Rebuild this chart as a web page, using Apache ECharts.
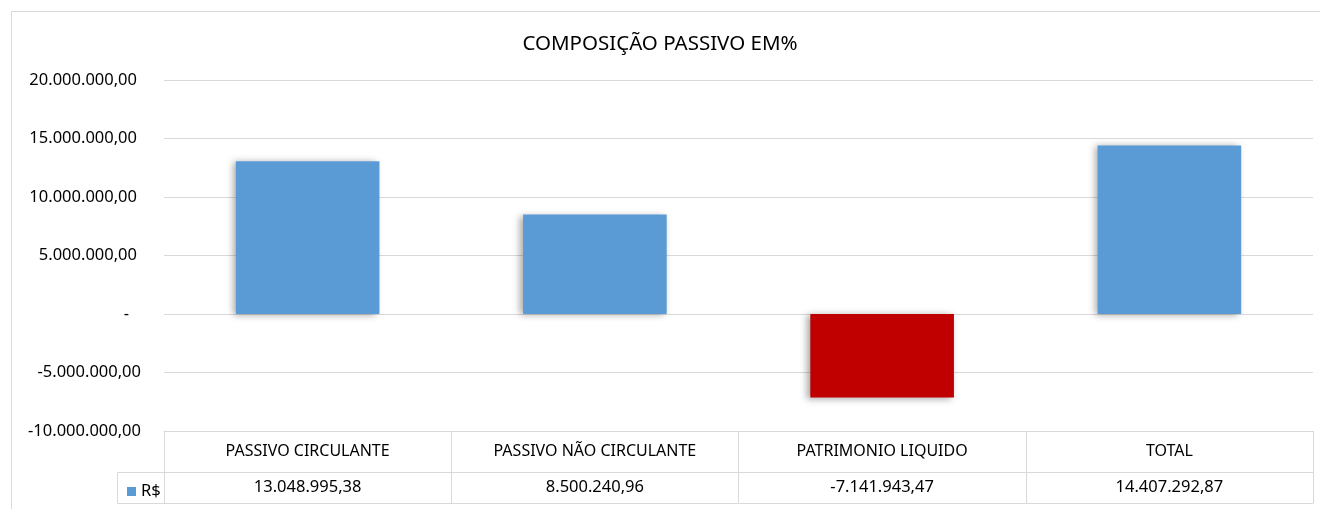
<!DOCTYPE html>
<html>
<head>
<meta charset="utf-8">
<script src="https://cdn.jsdelivr.net/npm/echarts@6/dist/echarts.min.js"></script>
<style>
  html, body { margin: 0; padding: 0; background: #fff; }
  #chart { width: 1320px; height: 509px; }
</style>
</head>
<body>
<div id="chart"></div>
<script>
// dados do gráfico
const categorias = ['PASSIVO CIRCULANTE', 'PASSIVO NÃO CIRCULANTE', 'PATRIMONIO LIQUIDO', 'TOTAL']
const valores = [13048995.38, 8500240.96, -7141943.47, 14407292.87]
const eixoY = { min: -10000000, max: 20000000, intervalo: 5000000 }

// formata no padrão brasileiro 1.234.567,89
function brl(v) {
    const neg = v < 0
    const partes = Math.abs(v).toFixed(2).split('.')
    const inteiro = partes[0].replace(/\B(?=(\d{3})+(?!\d))/g, '.')
    return (neg ? '-' : '') + inteiro + ',' + partes[1]
}

;(function () {
    const myChart = echarts.init(document.getElementById('chart'))
    const fonte = '"Noto Sans", "Open Sans", sans-serif'
    const cinza = '#d9d9d9'
    const option = {
        animation: false,
        textStyle: { fontFamily: fonte, color: '#000' },
        title: {
            text: 'COMPOSIÇÃO PASSIVO EM%',
            left: 'center',
            top: 29,
            textStyle: { fontFamily: fonte, fontSize: 20.5, fontWeight: 'normal', color: '#000' }
        },
        legend: {
            left: 122,
            top: 478,
            icon: 'rect',
            itemWidth: 9,
            itemHeight: 9,
            itemGap: 0,
            textStyle: { fontFamily: fonte, fontSize: 16.5, color: '#000' }
        },
        grid: { left: 164, right: 7, top: 80, bottom: 78 },
        xAxis: [
            {
                type: 'category',
                data: categorias,
                position: 'bottom',
                axisLine: { show: true, onZero: false, lineStyle: { color: cinza } },
                axisTick: { show: true, interval: 0, length: 72, lineStyle: { color: cinza } },
                axisLabel: {
                    interval: 0,
                    margin: 0,
                    verticalAlign: 'top',
                    formatter: function (nome, i) {
                        return '{n|' + nome + '}\n{v|' + brl(valores[i]) + '}'
                    },
                    rich: {
                        n: { fontFamily: fonte, fontSize: 16, lineHeight: 41, color: '#000' },
                        v: { fontFamily: fonte, fontSize: 16.5, lineHeight: 31, color: '#000' }
                    }
                }
            },
            {
                // linha entre as duas linhas da tabela
                type: 'category',
                data: categorias,
                position: 'bottom',
                offset: 41,
                axisLine: { show: true, onZero: false, lineStyle: { color: cinza } },
                axisTick: { show: false },
                axisLabel: { show: false }
            },
            {
                // linha de baixo da tabela
                type: 'category',
                data: categorias,
                position: 'bottom',
                offset: 72,
                axisLine: { show: true, onZero: false, lineStyle: { color: cinza } },
                axisTick: { show: false },
                axisLabel: { show: false }
            }
        ],
        yAxis: {
            type: 'value',
            min: eixoY.min,
            max: eixoY.max,
            interval: eixoY.intervalo,
            axisLine: { show: false },
            axisTick: { show: false },
            splitLine: { lineStyle: { color: cinza, width: 1 } },
            axisLabel: {
                margin: 23,
                fontFamily: fonte,
                fontSize: 16.5,
                color: '#000',
                formatter: function (v) {
                    if (v === 0) return '{z|-}'
                    if (v > 0) return '{p|' + brl(v) + '}'
                    return brl(v)
                },
                rich: {
                    z: { fontFamily: fonte, fontSize: 16.5, padding: [0, 12, 0, 0] },
                    p: { fontFamily: fonte, fontSize: 16.5, padding: [0, 4, 0, 0] }
                }
            }
        },
        series: [
            {
                name: 'R$',
                type: 'bar',
                barWidth: '50%',
                itemStyle: {
                    color: '#5b9bd5',
                    shadowBlur: 7,
                    shadowOffsetX: -3,
                    shadowOffsetY: 1,
                    shadowColor: 'rgba(0,0,0,0.35)'
                },
                data: valores.map(function (v) {
                    return v < 0 ? { value: v, itemStyle: { color: '#c00000' } } : v
                })
            }
        ],
        graphic: [
            // borda externa do gráfico
            {
                type: 'rect',
                shape: { x: 11.5, y: 11.5, width: 1320, height: 520 },
                style: { fill: null, stroke: cinza, lineWidth: 1 },
                silent: true
            },
            // célula da legenda na tabela
            {
                type: 'polyline',
                shape: { points: [[164, 472.5], [117.5, 472.5], [117.5, 503.5], [164, 503.5]] },
                style: { fill: null, stroke: cinza, lineWidth: 1 },
                silent: true
            }
        ]
    }
    myChart.setOption(option)
})()
</script>
</body>
</html>
